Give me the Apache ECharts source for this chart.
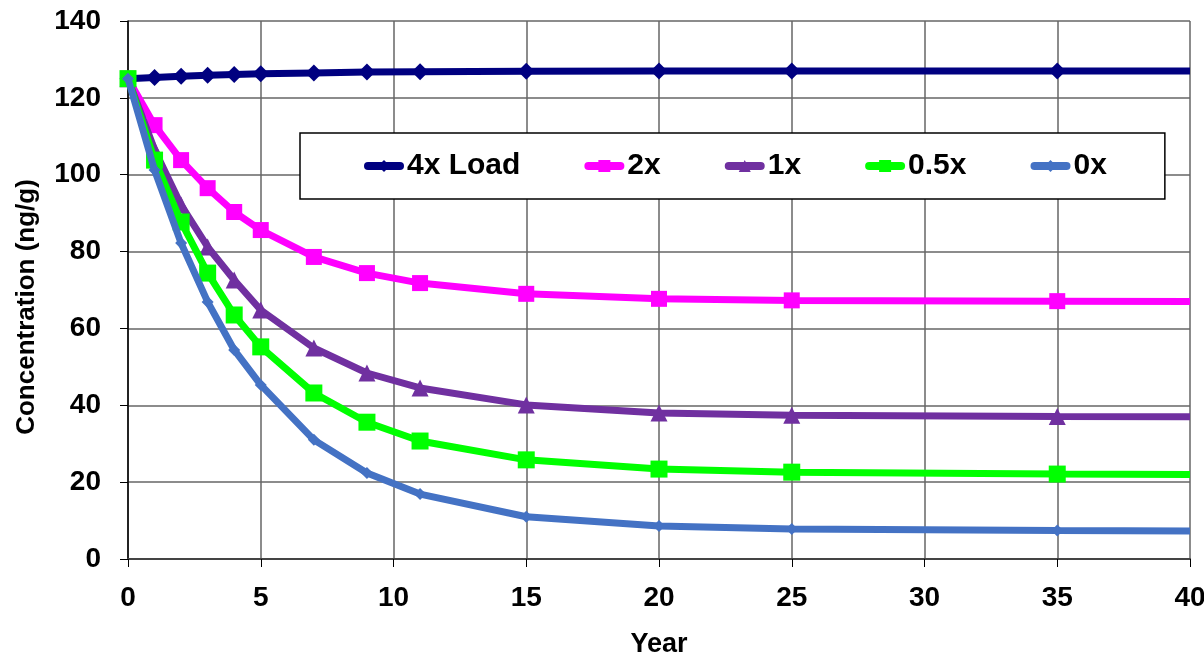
<!DOCTYPE html>
<html><head><meta charset="utf-8">
<script src="https://cdn.jsdelivr.net/npm/echarts@6/dist/echarts.min.js"></script>
<style>html,body{margin:0;padding:0;background:#fff}#c{width:1204px;height:654px}</style>
</head><body><div id="c"></div>
<script>
const years = [0, 1, 2, 3, 4, 5, 7, 9, 11, 15, 20, 25, 35, 40];
const load4x = [125, 125.3, 125.6, 125.9, 126.1, 126.3, 126.5, 126.7, 126.8, 126.9, 127, 127, 127, 127];
const load2x = [125, 112.9, 103.8, 96.5, 90.3, 85.6, 78.6, 74.4, 71.8, 69.0, 67.7, 67.3, 67.1, 67.0];
const load1x = [125, 106.5, 92.1, 81.2, 72.6, 64.8, 54.9, 48.4, 44.5, 40.1, 38.0, 37.4, 37.1, 37.0];
const load05x = [125, 103.8, 87.7, 74.4, 63.5, 55.2, 43.2, 35.6, 30.7, 25.8, 23.4, 22.6, 22.1, 22.0];
const load0x = [125, 101.2, 82.2, 66.9, 54.4, 45.3, 31.0, 22.4, 16.9, 11.0, 8.6, 7.8, 7.4, 7.3];
const names = ['4x Load', '2x', '1x', '0.5x', '0x'];
const colors = ['#000080', '#FF00FF', '#7030A0', '#00FF00', '#4472C4'];
const symbols = ['diamond', 'rect', 'triangle', 'rect', 'diamond'];
const symSizes = [17, 16, 17, 17, 12];
const allData = [load4x, load2x, load1x, load05x, load0x];

const font = 'Liberation Sans, Arial, sans-serif';
const series = allData.map((arr, i) => ({
  name: names[i],
  type: 'line',
  data: arr.map((v, j) => j === years.length - 1 ? {value: [years[j], v], symbol: 'none'} : [years[j], v]),
  symbol: symbols[i],
  symbolSize: symSizes[i],
  showAllSymbol: true,
  lineStyle: {color: colors[i], width: 7},
  itemStyle: {color: colors[i]},
  z: 2 + i,
  animation: false
}));

const chart = echarts.init(document.getElementById('c'));
chart.setOption({
  backgroundColor: '#fff',
  animation: false,
  grid: {left: 128, right: 14, top: 21, bottom: 95, show: false, containLabel: false, outerBoundsMode: 'none'},
  legend: {
    data: names,
    left: 300, top: 133,
    itemWidth: 32, itemHeight: 15, itemGap: 64,
    padding: [18, 58, 18, 64],
    lineStyle: {width: 8, cap: 'round'},
    backgroundColor: '#fff', borderColor: '#000', borderWidth: 1.5,
    textStyle: {fontFamily: font, fontWeight: 'bold', fontSize: 30, color: '#000', padding: [0, 0, 0, 2]}
  },
  xAxis: {
    type: 'value', min: 0, max: 40, interval: 5,
    name: 'Year', nameLocation: 'middle', nameGap: 72,
    nameTextStyle: {fontFamily: font, fontWeight: 'bold', fontSize: 27, color: '#000'},
    axisLine: {show: true, lineStyle: {color: '#444', width: 2}},
    axisTick: {show: true, length: 8, inside: false, lineStyle: {color: '#000'}},
    axisLabel: {fontFamily: font, fontWeight: 'bold', fontSize: 28, color: '#000', margin: 25},
    splitLine: {show: true, lineStyle: {color: '#666', width: 1.5}}
  },
  yAxis: {
    type: 'value', min: 0, max: 140, interval: 20,
    name: 'Concentration (ng/g)', nameLocation: 'middle', nameGap: 88, nameRotate: 90,
    nameTextStyle: {fontFamily: font, fontWeight: 'bold', fontSize: 26, color: '#000', padding: [0, 34, 0, 0]},
    axisLine: {show: true, lineStyle: {color: '#000', width: 1.5}},
    axisTick: {show: true, length: 8, inside: false, lineStyle: {color: '#000'}},
    axisLabel: {fontFamily: font, fontWeight: 'bold', fontSize: 28, color: '#000', margin: 27},
    splitLine: {show: true, lineStyle: {color: '#666', width: 1.5}}
  },
  series: series
});
</script></body></html>
